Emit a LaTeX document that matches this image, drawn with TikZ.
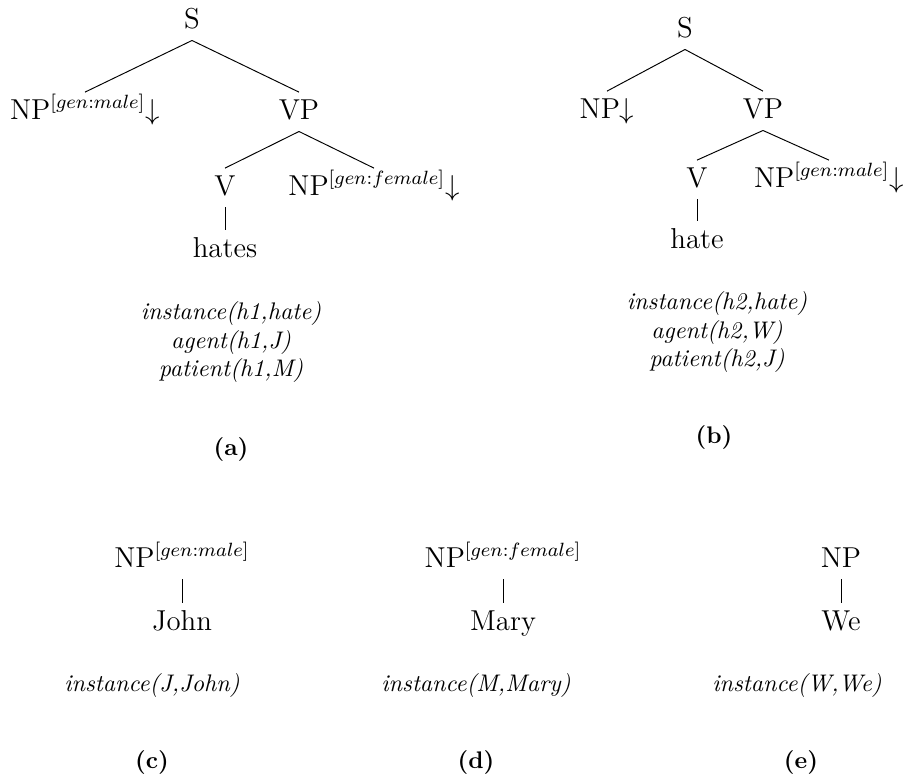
\documentclass[tikz,border=0pt]{standalone}
\usepackage{amsmath, amsfonts}
\usepackage{tikz}
\usetikzlibrary{positioning}
\tikzset{
  tree/.style={font=\large, inner sep=2.5pt, text height=8.5pt, text depth=2.5pt, anchor=base},
  sem/.style={font=\itshape, align=center, inner sep=0pt},
  subcap/.style={font=\bfseries, inner sep=0pt}
}

\begin{document}
\begin{tikzpicture}[x=0.4167pt,y=0.4167pt]
      \useasboundingbox (0,0) rectangle (904,-783);
      % (a)
      \node[tree] (s_a) at (192,-28) {S};
      \node[tree] (np_a) at (85,-119) {NP$^{[gen:male]}{\downarrow}$};
      \node[tree] (vp_a) at (299,-119) {VP};
      \node[tree] (v_a) at (225,-195) {V};
      \node[tree] (obj_a) at (374,-195) {NP$^{[gen:female]}{\downarrow}$};
      \node[tree] (hates) at (225,-257) {hates};
      \node[sem] (sem_a) at (231,-342) {instance(h1,hate)\\ agent(h1,J)\\ patient(h1,M)};
      \node[subcap] (cap_a) at (231,-449) {(a)};
      
      % (b)
      \node[tree] (s_b) at (685,-37) {S};
      \node[tree] (np_b) at (607,-118) {NP${\downarrow}$};
      \node[tree] (vp_b) at (763,-118) {VP};
      \node[tree] (v_b) at (697,-187) {V};
      \node[tree] (obj_b) at (829,-187) {NP$^{[gen:male]}{\downarrow}$};
      \node[tree] (hate) at (697,-248) {hate};
      \node[sem] (sem_b) at (717,-332) {instance(h2,hate)\\ agent(h2,W)\\ patient(h2,J)};
      \node[subcap] (cap_b) at (714,-437) {(b)};
      
      % (c), (d), (e)
      \node[tree] (np_c) at (182,-567) {NP$^{[gen:male]}$};
      \node[tree] (john) at (182,-630) {John};
      \node[sem] (sem_c) at (152,-685) {instance(J,John)};
      \node[subcap] (cap_c) at (152,-762) {(c)};
      \node[tree] (np_d) at (503,-567) {NP$^{[gen:female]}$};
      \node[tree] (mary) at (503,-630) {Mary};
      \node[sem] (sem_d) at (476,-685) {instance(M,Mary)};
      \node[subcap] (cap_d) at (476,-762) {(d)};
      \node[tree] (np_e) at (841,-567) {NP};
      \node[tree] (we) at (841,-630) {We};
      \node[sem] (sem_e) at (797,-685) {instance(W,We)};
      \node[subcap] (cap_e) at (801,-762) {(e)};
      
      \path (s_a.south) edge (np_a.north)
      (s_a.south) edge (vp_a.north)
      (vp_a.south) edge (v_a.north)
      (vp_a.south) edge (obj_a.north)
      (v_a.south) edge (hates.north)
      (s_b.south) edge (np_b.north)
      (s_b.south) edge (vp_b.north)
      (vp_b.south) edge (v_b.north)
      (vp_b.south) edge (obj_b.north)
      (v_b.south) edge (hate.north)
      (np_c.south) edge (john.north)
      (np_d.south) edge (mary.north)
      (np_e.south) edge (we.north);
    \end{tikzpicture}
\end{document}
